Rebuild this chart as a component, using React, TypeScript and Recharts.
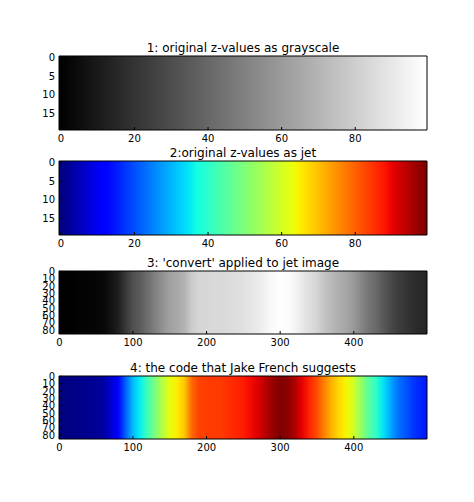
import { ComposedChart, XAxis, YAxis, ReferenceArea } from 'recharts';

// panels 1 & 2: original z-values, one per image column (every row is the same)
const zColumns = [
  0, 1, 2, 3, 4, 5, 6, 7, 8, 9, 10, 11, 12, 13, 14, 15, 16, 17, 18, 19,
  20, 21, 22, 23, 24, 25, 26, 27, 28, 29, 30, 31, 32, 33, 34, 35, 36, 37, 38, 39,
  40, 41, 42, 43, 44, 45, 46, 47, 48, 49, 50, 51, 52, 53, 54, 55, 56, 57, 58, 59,
  60, 61, 62, 63, 64, 65, 66, 67, 68, 69, 70, 71, 72, 73, 74, 75, 76, 77, 78, 79,
  80, 81, 82, 83, 84, 85, 86, 87, 88, 89, 90, 91, 92, 93, 94, 95, 96, 97, 98, 99,
];
const zValues = zColumns;
const zRows = 20;

// panels 3 & 4: the converted 500 px wide image, read every 10 columns
const convertColumns = [
  0, 10, 20, 30, 40, 50, 60, 70, 80, 90, 100, 110, 120, 130, 140, 150, 160, 170, 180, 190,
  200, 210, 220, 230, 240, 250, 260, 270, 280, 290, 300, 310, 320, 330, 340, 350, 360, 370, 380, 390,
  400, 410, 420, 430, 440, 450, 460, 470, 480, 490, 499,
];
const convertValues = [
  0, 0, 0.005, 0.01, 0.015, 0.02, 0.03, 0.07, 0.12, 0.22, 0.31, 0.36, 0.43, 0.5, 0.57, 0.63, 0.66, 0.7, 0.8, 0.84,
  0.845, 0.85, 0.85, 0.86, 0.87, 0.88, 0.9, 0.92, 0.95, 0.98, 1, 0.99, 0.96, 0.91, 0.87, 0.83, 0.77, 0.72, 0.68, 0.65,
  0.6, 0.53, 0.46, 0.41, 0.35, 0.29, 0.24, 0.21, 0.18, 0.16, 0.15,
];
const convertRows = 86;

const smallTicksX = [0, 20, 40, 60, 80];
const smallTicksY = [0, 5, 10, 15];
const wideTicksX = [0, 100, 200, 300, 400];
const wideTicksY = [0, 10, 20, 30, 40, 50, 60, 70, 80];

// matplotlib's jet segment data
const JET_R = [[0, 0], [0.35, 0], [0.66, 1], [0.89, 1], [1, 0.5]];
const JET_G = [[0, 0], [0.125, 0], [0.375, 1], [0.64, 1], [0.91, 0], [1, 0]];
const JET_B = [[0, 0.5], [0.11, 1], [0.34, 1], [0.65, 0], [1, 0]];

function seg(pts: number[][], v: number) {
  for (let i = 1; i < pts.length; i++) {
    if (v <= pts[i][0]) {
      const [x0, y0] = pts[i - 1];
      const [x1, y1] = pts[i];
      return y0 + ((v - x0) / (x1 - x0)) * (y1 - y0);
    }
  }
  return pts[pts.length - 1][1];
}

const jet = (v: number) =>
  `rgb(${Math.round(255 * seg(JET_R, v))},${Math.round(255 * seg(JET_G, v))},${Math.round(255 * seg(JET_B, v))})`;
const gray = (v: number) => {
  const c = Math.round(255 * v);
  return `rgb(${c},${c},${c})`;
};

const FONT = 'DejaVu Sans';
const tickStyle = { fontSize: 10, fill: '#000', fontFamily: FONT };

type PanelProps = {
  id: string;
  title: string;
  top: number;
  plotHeight: number;
  columns: number[];
  values: number[];
  width: number;
  rows: number;
  cmap: (v: number) => string;
  xTicks: number[];
  yTicks: number[];
};

function Panel({ id, title, top, plotHeight, columns, values, width, rows, cmap, xTicks, yTicks }: PanelProps) {
  const lo = Math.min(...values);
  const hi = Math.max(...values);
  const xDomain: [number, number] = [-0.5, width - 0.5];
  const yDomain: [number, number] = [-0.5, rows - 0.5];
  const h = plotHeight + 30;
  return (
    <div style={{ position: 'absolute', left: 0, top: top - 10, width: 474, height: h }}>
      <div
        style={{
          position: 'absolute', left: 59, width: 368, top: -5, textAlign: 'center',
          fontSize: 12, lineHeight: '14px', fontFamily: FONT, color: '#000', whiteSpace: 'nowrap',
        }}
      >
        {title}
      </div>
      <ComposedChart width={474} height={h} margin={{ top: 5, right: 37, bottom: 0, left: 29 }}>
        <defs>
          <linearGradient id={id} x1="0" y1="0" x2="1" y2="0">
            {columns.map((c, i) => (
              <stop key={c} offset={(c + 0.5) / width} stopColor={cmap((values[i] - lo) / (hi - lo))} />
            ))}
          </linearGradient>
        </defs>
        <ReferenceArea
          x1={xDomain[0]} x2={xDomain[1]} y1={yDomain[0]} y2={yDomain[1]}
          fill={`url(#${id})`} fillOpacity={1} stroke="none" ifOverflow="visible"
        />
        <XAxis
          type="number" dataKey="x" domain={xDomain} ticks={xTicks} interval={0} allowDataOverflow
          height={20} tickSize={-3} tickMargin={8} tick={tickStyle}
          axisLine={{ stroke: '#000' }} tickLine={{ stroke: '#000' }}
        />
        <XAxis
          xAxisId="top" orientation="top" type="number" domain={xDomain} ticks={xTicks} interval={0} allowDataOverflow
          height={5} tickSize={-3} tick={false} axisLine={{ stroke: '#000' }} tickLine={{ stroke: '#000' }}
        />
        <YAxis
          type="number" domain={yDomain} ticks={yTicks} interval={0} allowDataOverflow reversed
          width={30} tickSize={-3} tickMargin={7} tick={tickStyle}
          axisLine={{ stroke: '#000' }} tickLine={{ stroke: '#000' }}
        />
        <YAxis
          yAxisId="right" orientation="right" type="number" domain={yDomain} ticks={yTicks} interval={0}
          allowDataOverflow reversed width={10} tickSize={-3} tick={false}
          axisLine={{ stroke: '#000' }} tickLine={{ stroke: '#000' }}
        />
      </ComposedChart>
    </div>
  );
}

export default function App() {
  return (
    <div style={{ position: 'absolute', left: 0, top: 0, width: 474, height: 502, background: '#fff' }}>
      <Panel
        id="p1" title="1: original z-values as grayscale" top={56} plotHeight={74}
        columns={zColumns} values={zValues} width={100} rows={zRows} cmap={gray}
        xTicks={smallTicksX} yTicks={smallTicksY}
      />
      <Panel
        id="p2" title="2:original z-values as jet" top={161} plotHeight={74}
        columns={zColumns} values={zValues} width={100} rows={zRows} cmap={jet}
        xTicks={smallTicksX} yTicks={smallTicksY}
      />
      <Panel
        id="p3" title="3: 'convert' applied to jet image" top={271} plotHeight={63}
        columns={convertColumns} values={convertValues} width={500} rows={convertRows} cmap={gray}
        xTicks={wideTicksX} yTicks={wideTicksY}
      />
      <Panel
        id="p4" title="4: the code that Jake French suggests" top={376} plotHeight={63}
        columns={convertColumns} values={convertValues} width={500} rows={convertRows} cmap={jet}
        xTicks={wideTicksX} yTicks={wideTicksY}
      />
    </div>
  );
}
